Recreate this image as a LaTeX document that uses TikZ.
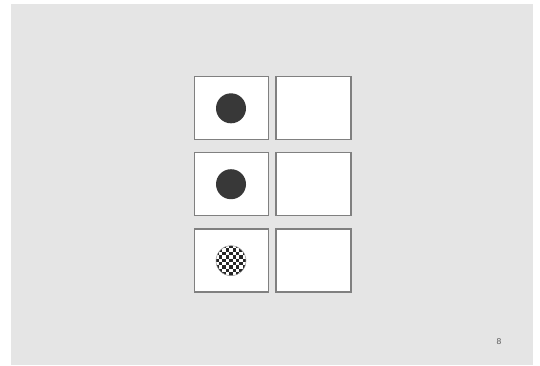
\documentclass[tikz,border=0pt]{standalone}
\usepackage{fontspec}
\setmainfont{Liberation Sans}
\begin{document}
\begin{tikzpicture}[x=1pt,y=-1pt,
  panel/.style={draw=black!50,line width=1.2pt,fill=white},
  dotfill/.style={fill=black!78},
  pagenum/.style={font=\fontsize{8.5}{9}\selectfont,text=black!65}]
\useasboundingbox (0,0) rectangle (540,365);
\fill[white] (0,0) rectangle (540,365);
\fill[black!10] (11,4) rectangle (533,365);
% panels
\node[panel,minimum width=74pt,minimum height=63pt,inner sep=0pt] (a1) at (231.3,108.3) {};
\node[panel,minimum width=75pt,minimum height=63pt,inner sep=0pt] (b1) at (313.5,108.3) {};
\node[panel,minimum width=74pt,minimum height=63pt,inner sep=0pt] (a2) at (231.3,184.3) {};
\node[panel,minimum width=75pt,minimum height=63pt,inner sep=0pt] (b2) at (313.5,184.3) {};
\node[panel,minimum width=74pt,minimum height=63pt,inner sep=0pt] (a3) at (231.3,260.5) {};
\node[panel,minimum width=75pt,minimum height=63pt,inner sep=0pt] (b3) at (313.5,260.5) {};
% dots
\fill[dotfill] (231,108.3) circle (15);
\fill[dotfill] (231,184.2) circle (15);
\begin{scope}
  \clip (231,260.7) circle (15);
  \fill[white] (215,245) rectangle (247,277);
  \foreach \i in {0,...,9}{
    \foreach \j in {0,...,9}{
      \pgfmathtruncatemacro{\cparity}{mod(\i+\j,2)}
      \ifnum\cparity=0
        \fill[black!85] ({215.5+\i*3.4},{245+\j*3.4}) rectangle ++(3.4,3.4);
      \fi
    }
  }
\end{scope}
\draw[black!40,line width=0.5pt] (231,260.7) circle (15);
\node[pagenum] (pn) at (499,341.5) {8};
\end{tikzpicture}
\end{document}
